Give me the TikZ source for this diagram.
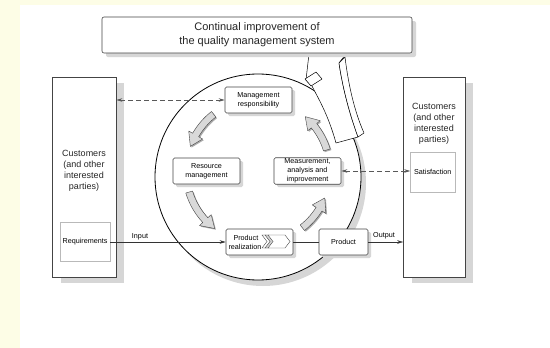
\documentclass[tikz,border=0pt]{standalone}
\usepackage{fontspec}
\setmainfont{Liberation Sans}
\usetikzlibrary{arrows.meta,shadows}
\definecolor{bgyellow}{HTML}{FDFDE6}
\definecolor{shadowgray}{HTML}{D6D6D6}
\definecolor{edgegray}{HTML}{444444}
\newcommand\fatarc[2]{%
  \pgfmathsetmacro\hh{#2+10}%
  \begin{scope}[shift={(259.2,172.2)}]
    \fill[gray!65] (#1:75.5) arc[start angle=#1, end angle=\hh, radius=75.5] -- (\hh:80) -- (#2:72) -- (\hh:64) -- (\hh:68.5) arc[start angle=\hh, end angle=#1, radius=68.5] -- cycle;
  \end{scope}
  \begin{scope}[shift={(258,171)}]
    \draw[fill=gray!30, draw=black!75, line width=0.4pt, line join=round] (#1:75.5) arc[start angle=#1, end angle=\hh, radius=75.5] -- (\hh:80) -- (#2:72) -- (\hh:64) -- (\hh:68.5) arc[start angle=\hh, end angle=#1, radius=68.5] -- cycle;
  \end{scope}}
\begin{document}
\begin{tikzpicture}[x=1pt,y=-1pt,
  font=\fontsize{7.2}{9}\selectfont,
  box/.style={draw=edgegray, line width=0.6pt, rounded corners=1.5pt, fill=white,
    minimum width=67pt, minimum height=26pt, align=center, inner sep=1pt,
    drop shadow={shadow xshift=3pt, shadow yshift=-3pt, fill=shadowgray, opacity=1}},
  bigbox/.style={draw=edgegray, line width=0.6pt, fill=white, inner sep=0pt,
    drop shadow={shadow xshift=8pt, shadow yshift=-6pt, fill=shadowgray, opacity=1}},
  lightbox/.style={draw=gray!55, line width=0.5pt, fill=white, inner sep=0pt, align=center},
  bigtext/.style={align=center, font=\fontsize{9}{11}\selectfont, text=black!85},
  conn/.style={line width=0.5pt, draw=black!80},
  dashconn/.style={line width=0.6pt, draw=black!65, dash pattern=on 5pt off 3pt},
  tip/.style={-{Stealth[length=6pt,width=3.5pt]}},
  tips/.style={{Stealth[length=6pt,width=3.5pt]}-{Stealth[length=6pt,width=3.5pt]}},
  ribbon/.style={fill=white, draw=black, line width=0.5pt, line join=round}
]
% background
\fill[white] (0,0) rectangle (550,348);
\fill[bgyellow] (0,0) rectangle (20,348);
\fill[bgyellow] (0,0) rectangle (550,5);
\useasboundingbox (0,0) rectangle (550,348);

% circle
\node[circle, draw=black, line width=0.8pt, fill=white, minimum size=206pt, inner sep=0pt,
  drop shadow={shadow xshift=5pt, shadow yshift=-6pt, fill=shadowgray, opacity=1}] (circ) at (258,177) {};

% customer boxes
\node[bigbox, minimum width=63.5pt, minimum height=200pt] (lcust) at (84.3,177) {};
\node[bigtext] (lcusttxt) at (84,170.5) {Customers\\(and other\\interested\\parties)};
\node[lightbox, minimum width=50pt, minimum height=39pt] (req) at (85,242) {Requirements};

\node[bigbox, minimum width=61.5pt, minimum height=200pt] (rcust) at (434.25,177) {};
\node[bigtext] (rcusttxt) at (434,123.5) {Customers\\(and other\\interested\\parties)};
\node[lightbox, minimum width=44.5pt, minimum height=40pt] (sat) at (432.75,172) {Satisfaction};

% process boxes
\node[box] (mgmt) at (258.5,100) {Management\\responsibility};
\node[box] (res) at (206.5,171) {Resource\\management};
\node[box] (meas) at (307.5,171) {Measurement,\\analysis and\\improvement};
\node[box, text width=62pt, align=left] (preal) at (259.5,242) {\hspace*{5pt}Product\\realization};
\node[box, minimum width=49pt] (prod) at (343.5,242) {Product};

% chevron icon
\draw[fill=white, draw=black!70, line width=0.4pt] (262,235) -- (266,235) -- (271,241.5) -- (266,248) -- (262,248) -- (267,241.5) -- cycle;
\draw[fill=gray!35, draw=black!70, line width=0.4pt] (265,235) -- (269,235) -- (274,241.5) -- (269,248) -- (265,248) -- (270,241.5) -- cycle;
\draw[fill=white, draw=black!70, line width=0.4pt] (268,235) -- (285,235) -- (290,241.5) -- (285,248) -- (268,248) -- (273,241.5) -- cycle;

% gray cycle arrows
\fatarc{232}{200}
\fatarc{163}{127}
\fatarc{52}{22}
\fatarc{-17}{-49}

% big white arrow
\draw[ribbon]
  (336,143) .. controls (328,114) and (318,98) .. (312,86) -- (306,80) -- (310,45) -- (353,45) -- (339,63)
  .. controls (343,90) and (350,115) .. (358,137) -- cycle;
\draw[ribbon]
  (339,63) -- (345,57) .. controls (349,90) and (356,115) .. (364,133) -- (358,137) .. controls (350,115) and (343,90) .. (339,63) -- cycle;
\draw[ribbon] (305,79) -- (316,72) -- (322,79) -- (311,86) -- cycle;

% top box
\node[draw=edgegray, line width=0.6pt, rounded corners=2pt, fill=white, minimum width=310pt, minimum height=36pt,
  align=center, font=\fontsize{11}{14}\selectfont, text=black!85,
  drop shadow={shadow xshift=4pt, shadow yshift=-4pt, fill=shadowgray, opacity=1}] (top) at (257,35)
  {Continual improvement of\\the quality management system};

% connectors
\draw[dashconn, tips] (lcust.east |- mgmt.west) -- (mgmt.west);
\draw[dashconn, tips] (meas.east) -- (meas.east -| sat.west);
\draw[conn, tip] (req.east) -- (preal.west);
\draw[conn] (preal.east) -- (prod.west);
\draw[conn, tip] (prod.east) -- (prod.east -| rcust.west);
\node (inlbl) at (140,237) {Input};
\node (outlbl) at (384,236) {Output};
\end{tikzpicture}
\end{document}
